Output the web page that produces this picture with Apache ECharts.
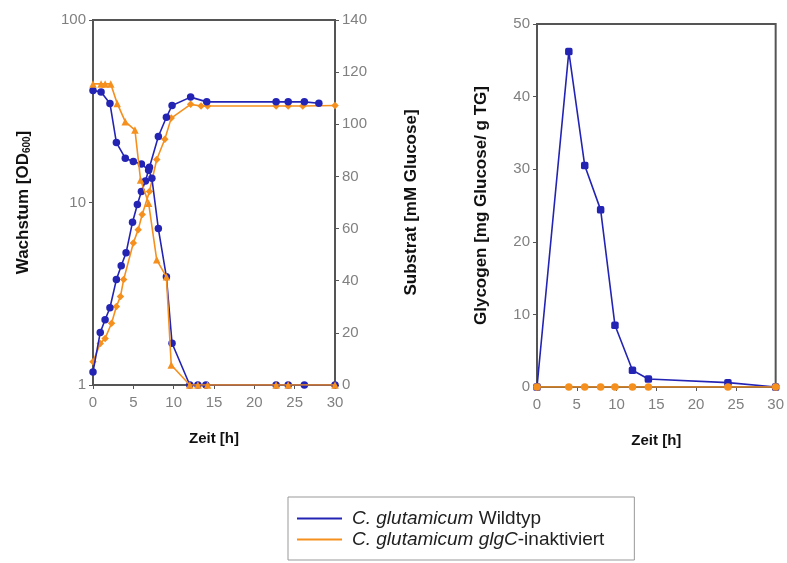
<!DOCTYPE html>
<html>
<head>
<meta charset="utf-8">
<script src="https://cdn.jsdelivr.net/npm/echarts@6/dist/echarts.min.js"></script>
<style>
  html, body { margin: 0; padding: 0; background: #fff; }
  #chart { width: 787px; height: 563px; }
</style>
</head>
<body>
<div id="chart"></div>
<script>
// Wachstum (OD600), Wildtyp
const growthTimeWT = [0, 0.9, 1.5, 2.1, 2.9, 3.5, 4.1, 4.9, 5.5, 6.0, 6.5, 7.0, 8.1, 9.1, 9.8, 12.1, 14.1, 22.7, 24.2, 26.2, 28]
const growthWT = [1.18, 1.94, 2.28, 2.65, 3.78, 4.5, 5.3, 7.8, 9.75, 11.5, 13.1, 15.6, 23, 29.3, 34, 37.8, 35.6, 35.6, 35.6, 35.6, 35]
// Wachstum (OD600), glgC-inaktiviert
const growthTimeGlgC = [0, 0.9, 1.5, 2.3, 2.9, 3.4, 3.8, 5.0, 5.6, 6.1, 7.0, 7.9, 8.9, 9.7, 12.1, 13.4, 14.2, 22.7, 24.2, 26.0, 30]
const growthGlgC = [1.34, 1.69, 1.8, 2.18, 2.69, 3.05, 3.78, 6.0, 7.1, 8.6, 11.5, 17.2, 22.2, 29, 34.5, 33.8, 33.8, 33.8, 33.8, 33.8, 34]
// Substrat (mM Glucose)
const substrTimeWT = [0, 1, 2.1, 2.9, 4, 5, 6, 6.9, 7.3, 8.1, 9.1, 9.8, 12, 13, 14, 22.7, 24.2, 26.2, 30]
const substrWT = [113, 112.4, 108, 93, 87, 85.7, 84.8, 82.4, 79.3, 60, 41.5, 16, 0, 0, 0, 0, 0, 0, 0]
const substrTimeGlgC = [0, 1, 1.5, 2.2, 3, 4, 5.2, 5.9, 6.9, 7.9, 9.1, 9.7, 12, 13, 14.2, 22.7, 24.2, 30]
const substrGlgC = [115.5, 115.5, 115.5, 115.5, 108, 101, 97.8, 78.6, 69.7, 48, 41.5, 7.7, 0, 0, 0, 0, 0, 0]
// Glycogen (mg Glucose / g TG)
const glycoTime = [0, 4, 6, 8, 9.8, 12, 14, 24, 30]
const glycoWT = [0, 46.2, 30.5, 24.4, 8.5, 2.3, 1.1, 0.6, 0]
const glycoGlgC = [0, 0, 0, 0, 0, 0, 0, 0, 0]

const BLUE = '#2424b4'
const ORANGE = '#f5901e'
const FONT = 'Liberation Sans, Arial, sans-serif'

const pairs = (xs, ys) => xs.map((x, i) => [x, ys[i]])

const axisLine = { show: true, lineStyle: { color: '#555', width: 2 } }
const axisTick = { show: true, inside: false, length: 4, lineStyle: { color: '#555' } }
const axisLabel = { color: '#808080', fontSize: 15, fontFamily: FONT, margin: 7 }
const nameStyle = { color: '#111', fontSize: 17, fontWeight: 'bold', fontFamily: FONT }

const xAxisBase = gridIndex => ({
  type: 'value',
  gridIndex: gridIndex,
  min: 0,
  max: 30,
  interval: 5,
  name: 'Zeit [h]',
  nameLocation: 'middle',
  nameGap: 46,
  nameTextStyle: Object.assign({}, nameStyle, { fontSize: 15 }),
  axisLine: axisLine,
  axisTick: axisTick,
  axisLabel: Object.assign({}, axisLabel, { margin: 10 }),
  splitLine: { show: false }
})

const lineSeries = (name, color, symbol, xAxisIndex, yAxisIndex, data, z) => ({
  name: name,
  type: 'line',
  xAxisIndex: xAxisIndex,
  yAxisIndex: yAxisIndex,
  symbol: symbol,
  symbolSize: 7.5,
  lineStyle: { color: color, width: 1.6 },
  itemStyle: { color: color },
  data: data,
  z: z
})

const option = {
  animation: false,
  backgroundColor: '#fff',
  textStyle: { fontFamily: FONT },
  legend: {
    left: 288,
    top: 497,
    width: 320,
    orient: 'vertical',
    data: ['wt', 'glgc'],
    icon: 'rect',
    itemWidth: 45,
    itemHeight: 2,
    itemGap: 2,
    padding: [12, 30, 11, 9],
    borderColor: '#999',
    borderWidth: 1,
    formatter: function (name) {
      if (name === 'wt') {
        return '{i|C. glutamicum} Wildtyp'
      }
      return '{i|C. glutamicum} {i|glgC}-inaktiviert'
    },
    textStyle: {
      color: '#222',
      fontSize: 19,
      fontFamily: FONT,
      padding: [0, 0, 0, 5],
      rich: {
        i: { fontStyle: 'italic', fontSize: 19, color: '#222', fontFamily: FONT }
      }
    }
  },
  grid: [
    { left: 93, right: 452, top: 20, bottom: 178, show: true, borderColor: '#555', borderWidth: 2 },
    { left: 537, right: 10, top: 24, bottom: 176, show: true, borderColor: '#555', borderWidth: 2 }
  ],
  xAxis: [xAxisBase(0), xAxisBase(1)],
  yAxis: [{
    type: 'log',
    gridIndex: 0,
    logBase: 10,
    min: 1,
    max: 100,
    name: 'Wachstum [OD{sub|600}]',
    nameLocation: 'middle',
    nameGap: 61,
    nameRotate: 90,
    nameTextStyle: Object.assign({}, nameStyle, {
      rich: { sub: { fontSize: 10, fontWeight: 'bold', color: '#111', verticalAlign: 'bottom', padding: [8, 0, 0, 0] } }
    }),
    axisLine: axisLine,
    axisTick: axisTick,
    axisLabel: axisLabel,
    minorTick: { show: false },
    splitLine: { show: false }
  }, {
    type: 'value',
    gridIndex: 0,
    position: 'right',
    min: 0,
    max: 140,
    interval: 20,
    name: 'Substrat [mM Glucose]',
    nameLocation: 'middle',
    nameGap: 68,
    nameRotate: 90,
    nameTextStyle: nameStyle,
    axisLine: axisLine,
    axisTick: axisTick,
    axisLabel: axisLabel,
    splitLine: { show: false }
  }, {
    type: 'value',
    gridIndex: 1,
    min: 0,
    max: 50,
    interval: 10,
    name: 'Glycogen [mg Glucose/ g TG]',
    nameLocation: 'middle',
    nameGap: 47,
    nameRotate: 90,
    nameTextStyle: nameStyle,
    axisLine: axisLine,
    axisTick: axisTick,
    axisLabel: axisLabel,
    splitLine: { show: false }
  }],
  series: [
    lineSeries('wt', BLUE, 'circle', 0, 0, pairs(growthTimeWT, growthWT), 3),
    lineSeries('glgc', ORANGE, 'diamond', 0, 0, pairs(growthTimeGlgC, growthGlgC), 2),
    lineSeries('wt', BLUE, 'circle', 0, 1, pairs(substrTimeWT, substrWT), 3),
    lineSeries('glgc', ORANGE, 'triangle', 0, 1, pairs(substrTimeGlgC, substrGlgC), 4),
    lineSeries('wt', BLUE, 'roundRect', 1, 2, pairs(glycoTime, glycoWT), 3),
    lineSeries('glgc', ORANGE, 'circle', 1, 2, pairs(glycoTime, glycoGlgC), 4)
  ]
}

const myChart = echarts.init(document.getElementById('chart'))
myChart.setOption(option)
</script>
</body>
</html>
